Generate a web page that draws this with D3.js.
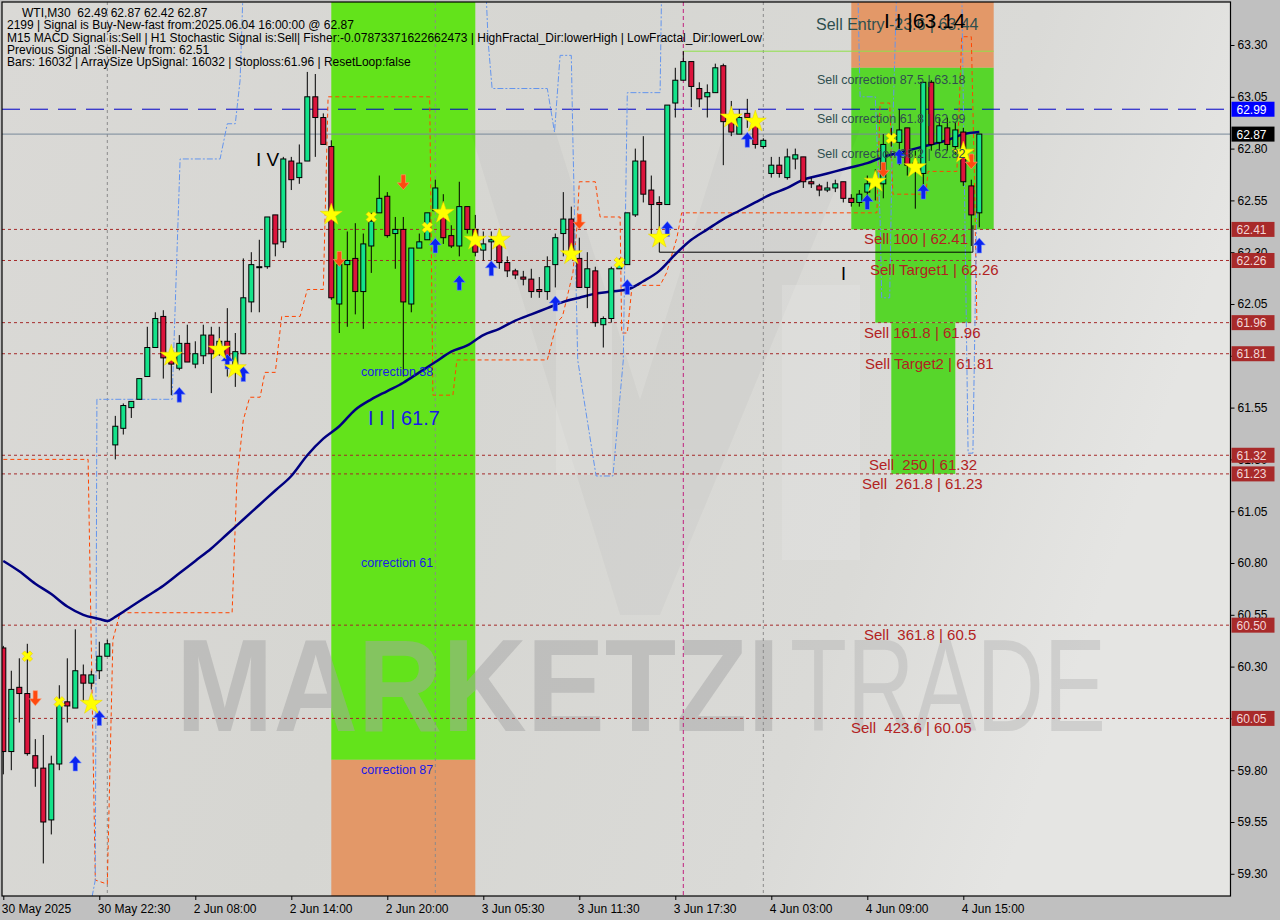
<!DOCTYPE html>
<html><head><meta charset="utf-8">
<script src="https://cdn.jsdelivr.net/npm/d3@7"></script>
<style>
body{margin:0;background:#c0c0c0;}
svg{display:block;font-family:"Liberation Sans",Arial,sans-serif;}
</style>
</head><body>
<svg id="c" width="1280" height="920"></svg>
<script>
// ---------------- DATA ----------------
const timeLabels = ["30 May 2025","30 May 22:30","2 Jun 08:00","2 Jun 14:00","2 Jun 20:00","3 Jun 05:30","3 Jun 11:30","3 Jun 17:30","4 Jun 03:00","4 Jun 09:00","4 Jun 15:00"];
const timeLabelBars = [0,12,24,36,48,60,72,84,96,108,120];
const priceTicks = [63.30,63.05,62.80,62.55,62.30,62.05,61.80,61.55,61.30,61.05,60.80,60.55,60.30,60.05,59.80,59.55,59.30];

const opens  = [60.39,59.89,60.20,60.17,59.87,59.81,59.56,59.83,60.13,60.10,60.26,60.22,60.28,60.35,61.37,61.45,61.55,61.59,61.70,61.84,
61.99,61.81,61.74,61.86,61.76,61.80,61.90,61.84,61.87,61.76,61.81,62.06,62.23,62.23,62.48,62.35,62.74,62.66,62.74,63.05,
62.95,62.81,62.05,62.24,62.27,62.11,62.33,62.49,62.57,62.39,62.41,62.05,62.32,62.36,62.50,62.49,62.38,62.33,62.52,62.41,
62.31,62.35,62.34,62.25,62.21,62.18,62.17,62.12,62.11,62.24,62.39,62.46,62.27,62.13,62.21,61.95,61.98,62.22,62.24,62.48,
62.74,62.60,62.54,62.53,63.02,63.13,63.22,63.09,63.05,63.07,63.20,62.95,62.87,62.97,62.93,62.81,62.68,62.72,62.66,62.75,
62.76,62.64,62.62,62.60,62.61,62.64,62.56,62.54,62.59,62.62,62.63,62.84,62.83,62.90,62.73,62.68,63.12,62.83,62.90,62.81,
62.88,62.62,62.49];
const highs  = [60.40,60.28,60.34,60.41,59.95,59.97,59.87,60.21,60.34,60.48,60.31,60.28,60.42,60.43,61.51,61.57,61.58,61.69,61.94,62.01,
62.02,61.83,61.90,61.95,61.87,61.95,61.94,61.94,62.03,61.91,62.27,62.30,62.36,62.47,62.48,62.76,62.76,62.82,63.17,63.16,
62.97,62.84,62.24,62.40,62.44,62.39,62.49,62.67,62.59,62.47,62.47,62.32,62.39,62.49,62.65,62.58,62.43,62.64,62.52,62.48,
62.40,62.40,62.40,62.28,62.22,62.21,62.22,62.18,62.28,62.39,62.59,62.52,62.37,62.30,62.23,61.99,62.23,62.27,62.49,62.80,
62.86,62.67,62.57,63.01,63.19,63.27,63.22,63.12,63.11,63.21,63.21,63.03,62.99,63.04,62.95,62.85,62.76,62.76,62.80,62.80,
62.76,62.66,62.63,62.64,62.65,62.64,62.58,62.60,62.67,62.70,62.87,62.90,62.99,62.90,62.79,63.12,63.13,62.95,62.95,62.93,
62.90,62.65,62.87];
const lows   = [59.78,59.80,60.03,59.87,59.72,59.35,59.49,59.80,60.03,60.10,60.13,60.19,60.24,60.35,61.30,61.42,61.50,61.59,61.70,61.84,
61.69,61.61,61.73,61.77,61.74,61.76,61.62,61.80,61.70,61.65,61.81,62.01,62.01,62.22,62.28,62.32,62.60,62.63,62.74,62.76,
62.82,62.07,61.91,61.94,62.00,61.93,62.20,62.49,62.37,62.22,61.70,62.01,62.32,62.36,62.50,62.34,62.32,62.28,62.39,62.28,
62.26,62.26,62.22,62.18,62.17,62.14,62.08,62.08,62.07,62.13,62.28,62.28,62.13,62.03,61.94,61.84,61.96,62.22,62.24,62.47,
62.54,62.38,62.37,62.53,62.95,63.13,63.00,63.00,62.95,63.07,62.72,62.86,62.87,62.90,62.80,62.80,62.66,62.66,62.65,62.70,
62.61,62.61,62.57,62.59,62.59,62.54,62.52,62.52,62.57,62.55,62.56,62.81,62.72,62.67,62.51,62.61,62.79,62.79,62.79,62.77,
62.62,62.33,62.42];
const closes = [59.89,60.19,60.17,59.88,59.81,59.55,59.83,60.12,60.11,60.28,60.22,60.26,60.35,60.41,61.46,61.56,61.58,61.69,61.84,61.98,
61.79,61.76,61.86,61.77,61.81,61.90,61.81,61.87,61.79,61.82,62.08,62.24,62.23,62.47,62.34,62.75,62.65,62.73,63.05,62.95,
62.82,62.08,62.24,62.26,62.11,62.34,62.45,62.56,62.38,62.41,62.06,62.32,62.35,62.49,62.61,62.37,62.33,62.52,62.41,62.30,
62.34,62.36,62.25,62.21,62.19,62.17,62.11,62.11,62.23,62.37,62.46,62.30,62.13,62.22,61.96,61.98,62.22,62.24,62.49,62.74,
62.58,62.53,62.53,63.01,63.13,63.22,63.10,63.04,63.07,63.19,62.93,62.88,62.95,62.95,62.82,62.84,62.72,62.68,62.76,62.77,
62.64,62.63,62.60,62.61,62.63,62.56,62.54,62.58,62.63,62.65,62.82,62.86,62.89,62.72,62.71,63.12,62.82,62.91,62.82,62.89,
62.64,62.48,62.87];

const maBars   = [0,2,4,6,8,10,12,13,14,16,18,20,22,24,26,28,30,32,34,36,38,40,42,44,46,48,50,52,54,56,58,60,62,64,66,68,70,72,74,76,78,80,82,84,86,88,90,92,94,96,98,100,102,104,106,108,110,112,114,116,118,120,122];
const maValues = [60.81,60.76,60.70,60.65,60.59,60.55,60.53,60.52,60.54,60.59,60.64,60.69,60.75,60.81,60.87,60.94,61.01,61.08,61.15,61.22,61.32,61.40,61.46,61.54,61.59,61.63,61.67,61.72,61.77,61.82,61.85,61.90,61.93,61.97,62.00,62.03,62.06,62.08,62.10,62.11,62.12,62.16,62.21,62.29,62.36,62.41,62.46,62.50,62.54,62.58,62.61,62.65,62.67,62.69,62.71,62.73,62.76,62.78,62.80,62.82,62.84,62.87,62.88];

const lowFractalBars   = [0,10.6,11.5,13,13.7,14.6,28.6,29.2,30,30.8,32.1,32.7,34,34.8,37.1,38,40,40.6,53.3,53.7,56.2,56.7,68,69.2,69.9,71.2,71.7,72,74,74.6,77.1,77.3,78,78.6,82.1,82.9,84.2,84.8,109.2,109.6,110.8,111.2,115.3,115.6,119.2,119.8,121,121.4,121.7];
const lowFractalPrices = [61.30,61.30,59.27,59.25,60.43,60.56,60.56,61.20,61.49,61.60,61.60,61.72,61.72,61.99,61.99,62.12,62.12,63.05,63.05,61.61,61.61,61.78,61.78,61.96,61.99,62.20,62.42,62.64,62.64,62.47,62.47,61.91,61.91,62.14,62.14,62.20,62.37,62.49,62.49,63.02,63.02,62.58,62.58,62.69,62.69,63.34,63.34,62.65,61.96];
const highFractalBars   = [11.1,11.5,11.7,21.1,22.1,27.1,28,29,29.6,30,60.3,60.6,61.1,68,68.9,69.6,71,71.2,71.8,74.1,76.2,77.5,78,82.1,82.3,106.8,107.1,109,109.6,109.8,110.8,111.1,111.7,119.8,120.6,121.2,121.5,121.8];
const highFractalPrices = [59.19,59.27,61.59,61.59,62.75,62.75,62.92,62.92,63.13,63.60,63.60,63.32,63.09,63.09,62.88,63.25,63.25,62.84,61.78,61.22,61.22,61.78,63.07,63.07,63.60,63.60,63.05,63.05,62.46,62.08,62.08,62.79,63.60,63.60,61.33,61.33,62.07,62.84];

const buyArrowBars   = [9,12,22,28,30,54,57,61,69,78,83,93,108,112,115,122];
const buyArrowPrices = [59.83,60.05,61.61,61.77,61.71,62.33,62.15,62.22,62.05,62.13,62.41,62.84,62.54,62.76,62.59,62.33];
const sellArrowBars   = [4,42,50,72,110,121];
const sellArrowPrices = [60.15,62.27,62.64,62.45,62.70,62.74];
const starBars   = [11,21,27,29,41,55,59,62,71,82,91,94,109,114,120];
const starPrices = [60.12,61.80,61.83,61.74,62.48,62.49,62.36,62.36,62.29,62.37,62.95,62.93,62.64,62.71,62.78];
const crossBars   = [3,7,46,53,77,111];
const crossPrices = [60.35,60.13,62.47,62.42,62.25,62.85];

const levelPrices = [62.41,62.26,61.96,61.81,61.32,61.23,60.50,60.05];
const levelNames  = ["Sell 100 | 62.41","Sell Target1 | 62.26","Sell 161.8 | 61.96","Sell Target2 | 61.81","Sell  250 | 61.32","Sell  261.8 | 61.23","Sell  361.8 | 60.5","Sell  423.6 | 60.05"];
const correctionNames  = ["Sell correction 87.5 | 63.18","Sell correction 61.8 | 62.99","Sell correction 38.2 | 62.82"];
const correctionPrices = [63.18,62.99,62.82];
const leftCorrectionNames  = ["correction 38","correction 61","correction 87"];
const leftCorrectionPrices = [61.72,60.80,59.80];

const infoLines = ["WTI,M30  62.49 62.87 62.42 62.87",
 "2199 | Signal is Buy-New-fast from:2025.06.04 16:00:00 @ 62.87",
 "M15 MACD Signal is:Sell | H1 Stochastic Signal is:Sell| Fisher:-0.07873371622662473 | HighFractal_Dir:lowerHigh | LowFractal_Dir:lowerLow",
 "Previous Signal :Sell-New from: 62.51",
 "Bars: 16032 | ArraySize UpSignal: 16032 | Stoploss:61.96 | ResetLoop:false"];

// zones: [barStart, barEnd, priceLow, priceHigh, kind]
const zoneBarStart = [41,41,106,106,109,111];
const zoneBarEnd   = [59,59,123.8,123.8,121,119];
const zoneLow      = [59.85,59.10,63.19,62.41,61.96,61.23];
const zoneHigh     = [63.60,59.85,63.60,63.19,62.41,61.96];
const zoneKind     = ["g1","o","o","g","g","g"];

// ---------------- CHART ----------------
const svg = d3.select("#c");
const L = 2, T = 2, R = 1230.5, B = 896;
const x = d3.scaleLinear().domain([0,122]).range([3.3,979.3]);
const y = d3.scaleLinear().domain([59.30,63.30]).range([873.8,45]);

const defs = svg.append("defs");
const g1 = defs.append("linearGradient").attr("id","bg").attr("x1","0").attr("y1","0").attr("x2","1").attr("y2","0.25");
[["0","#dad9d6"],["0.45","#d6d6d2"],["0.8","#dadad7"],["1","#e5e5e3"]].forEach(s=>g1.append("stop").attr("offset",s[0]).attr("stop-color",s[1]));
defs.append("clipPath").attr("id","clip").append("rect").attr("x",L).attr("y",T).attr("width",R-L).attr("height",B-T);

svg.append("rect").attr("width",1280).attr("height",920).attr("fill","#c0c0c0");
svg.append("rect").attr("x",L).attr("y",T).attr("width",R-L).attr("height",B-T).attr("fill","url(#bg)");

const plot = svg.append("g").attr("clip-path","url(#clip)");

// zones
const zoneColor = {g1:"#63e31b", g:"#57d62b", o:"#e39868"};
plot.selectAll("rect.zone").data(zoneKind).join("rect").attr("class","zone")
  .attr("x",(d,i)=>x(zoneBarStart[i])).attr("width",(d,i)=>x(zoneBarEnd[i])-x(zoneBarStart[i]))
  .attr("y",(d,i)=>y(zoneHigh[i])).attr("height",(d,i)=>y(zoneLow[i])-y(zoneHigh[i]))
  .attr("fill",d=>zoneColor[d]);

// faint logo watermark (decorative)
const logo = plot.append("g").attr("opacity",0.5);
logo.append("path").attr("d","M470,130 L555,130 L640,400 L725,130 L860,130 L660,615 L620,615 Z")
  .attr("fill","#000").attr("fill-opacity",0.05);
logo.append("rect").attr("x",556).attr("y",290).attr("width",56).attr("height",185).attr("fill","#fff").attr("fill-opacity",0.25);
logo.append("rect").attr("x",782).attr("y",285).attr("width",78).attr("height",275).attr("fill","#fff").attr("fill-opacity",0.25);

// watermark text
plot.append("text").attr("x",176).attr("y",731).attr("font-size",132).attr("font-weight","bold")
  .attr("textLength",604).attr("lengthAdjust","spacingAndGlyphs")
  .attr("fill","#a6a6a6").attr("fill-opacity",0.5).text("MARKETZI");
plot.append("text").attr("x",790).attr("y",731).attr("font-size",132)
  .attr("textLength",316).attr("lengthAdjust","spacingAndGlyphs")
  .attr("fill","#b4b4b4").attr("fill-opacity",0.45).text("TRADE");

// vertical separators
const sepBars = [13,54,95];
plot.selectAll("line.sep").data(sepBars).join("line").attr("class","sep")
  .attr("x1",d=>x(d)).attr("x2",d=>x(d)).attr("y1",T).attr("y2",B)
  .attr("stroke","#8a8a8a").attr("stroke-dasharray","3,3");
plot.append("line").attr("x1",x(85)).attr("x2",x(85)).attr("y1",T).attr("y2",B)
  .attr("stroke","#c0207f").attr("stroke-dasharray","4,3");

// level lines
plot.selectAll("line.lvl").data(levelPrices).join("line").attr("class","lvl")
  .attr("x1",L).attr("x2",R).attr("y1",d=>y(d)).attr("y2",d=>y(d))
  .attr("stroke","#a52a2a").attr("stroke-dasharray","3,3");
plot.append("line").attr("x1",L).attr("x2",R).attr("y1",y(62.99)).attr("y2",y(62.99))
  .attr("stroke","#0000c8").attr("stroke-width",1).attr("stroke-dasharray","18,10");
plot.append("line").attr("x1",L).attr("x2",R).attr("y1",y(62.87)).attr("y2",y(62.87))
  .attr("stroke","#778899");
plot.append("line").attr("x1",x(85)).attr("x2",x(123.8)).attr("y1",y(63.27)).attr("y2",y(63.27))
  .attr("stroke","#8fe04a");

// fractal lines
const lineXY = d3.line().x(d=>x(d[0])).y(d=>y(d[1]));
plot.append("path").attr("d",lineXY(lowFractalBars.map((b,i)=>[b,lowFractalPrices[i]])))
  .attr("fill","none").attr("stroke","#ff4500").attr("stroke-dasharray","4,3");
plot.append("path").attr("d",lineXY(highFractalBars.map((b,i)=>[b,highFractalPrices[i]])))
  .attr("fill","none").attr("stroke","#6495ed").attr("stroke-dasharray","6,2,2,2");

// black wave line
plot.append("path").attr("d",lineXY([[82,62.37],[82,62.30],[121.2,62.30],[121.2,62.43]]))
  .attr("fill","none").attr("stroke","#000");

// moving average
plot.append("path").attr("d",d3.line().curve(d3.curveMonotoneX).x(d=>x(d[0])).y(d=>y(d[1]))(maBars.map((b,i)=>[b,maValues[i]])))
  .attr("fill","none").attr("stroke","#000080").attr("stroke-width",2.5);

// candles
const idx = d3.range(opens.length);
const cg = plot.append("g");
cg.selectAll("line.wick").data(idx).join("line")
  .attr("x1",i=>x(i)).attr("x2",i=>x(i)).attr("y1",i=>y(highs[i])).attr("y2",i=>y(lows[i]))
  .attr("stroke","#000").attr("stroke-width",1);
cg.selectAll("rect.body").data(idx).join("rect")
  .attr("x",i=>x(i)-2.5).attr("width",5)
  .attr("y",i=>y(Math.max(opens[i],closes[i])))
  .attr("height",i=>Math.max(1,Math.abs(y(opens[i])-y(closes[i]))))
  .attr("fill",i=>closes[i]>=opens[i]?"#14e38a":"#dc143c")
  .attr("stroke","#000").attr("stroke-width",1);

// markers
const upArrow = "M0,-8 L6,-1 L2.2,-1 L2.2,7 L-2.2,7 L-2.2,-1 L-6,-1 Z";
const dnArrow = "M0,8 L6,1 L2.2,1 L2.2,-7 L-2.2,-7 L-2.2,1 L-6,1 Z";
plot.selectAll("path.buy").data(buyArrowBars).join("path")
  .attr("transform",(d,i)=>`translate(${x(d)},${y(buyArrowPrices[i])})`)
  .attr("d",upArrow).attr("fill","#0b24f0").attr("stroke","#6f8cff").attr("stroke-width",0.6);
plot.selectAll("path.sell").data(sellArrowBars).join("path")
  .attr("transform",(d,i)=>`translate(${x(d)},${y(sellArrowPrices[i])})`)
  .attr("d",dnArrow).attr("fill","#ff4a10").attr("stroke","#ff9a70").attr("stroke-width",0.6);
plot.selectAll("path.star").data(starBars).join("path")
  .attr("transform",(d,i)=>`translate(${x(d)},${y(starPrices[i])})`)
  .attr("d",d3.symbol(d3.symbolStar,150)).attr("fill","#ffff00").attr("stroke","#e8d000").attr("stroke-width",0.5);
plot.selectAll("path.cross").data(crossBars).join("path")
  .attr("transform",(d,i)=>`translate(${x(d)},${y(crossPrices[i])}) rotate(45)`)
  .attr("d",d3.symbol(d3.symbolCross,70)).attr("fill","#ffff00").attr("stroke","#e8c000").attr("stroke-width",0.5);

// level texts
const lvlX = [864,870,864,865,869,862,864,851];
plot.selectAll("text.lvlt").data(levelNames).join("text")
  .attr("x",(d,i)=>lvlX[i]).attr("y",(d,i)=>y(levelPrices[i])+15)
  .attr("font-size",15).attr("fill","#b22222").style("white-space","pre").text(d=>d);
plot.selectAll("text.cor").data(correctionNames).join("text")
  .attr("x",817).attr("y",(d,i)=>y(correctionPrices[i])+14)
  .attr("font-size",12.5).attr("fill","#2f4f4f").text(d=>d);
plot.append("text").attr("x",816).attr("y",30).attr("font-size",16).attr("fill","#2f4f4f").text("Sell Entry -23.6 | 63.44");
plot.append("text").attr("x",884).attr("y",28).attr("font-size",21).attr("fill","#000").style("white-space","pre").text("I I |63.14");
plot.append("text").attr("x",256).attr("y",166).attr("font-size",19).attr("fill","#000").style("white-space","pre").text("I V");
plot.append("text").attr("x",841).attr("y",280).attr("font-size",18).attr("fill","#000").text("I");
plot.selectAll("text.lcor").data(leftCorrectionNames).join("text")
  .attr("x",361).attr("y",(d,i)=>y(leftCorrectionPrices[i])+4)
  .attr("font-size",12.5).attr("fill","#1a1ae6").text(d=>d);
plot.append("text").attr("x",368).attr("y",425).attr("font-size",20).attr("fill","#1a1ae6").style("white-space","pre").text("I I | 61.7");

// info text
svg.selectAll("text.info").data(infoLines).join("text")
  .attr("x",(d,i)=>i===0?22:7).attr("y",(d,i)=>[16.5,29,41.5,54,66][i])
  .attr("font-size",12).attr("fill","#000").style("white-space","pre").text(d=>d);

// frame
svg.append("rect").attr("x",L).attr("y",T).attr("width",R-L).attr("height",B-T)
  .attr("fill","none").attr("stroke","#000").attr("stroke-width",1.2);

// axes
const ay = svg.append("g").attr("transform",`translate(${R},0)`)
  .call(d3.axisRight(y).tickValues(priceTicks).tickSize(4).tickFormat(d3.format(".2f")));
ay.select(".domain").remove();
ay.selectAll("text").attr("font-size",12).attr("font-family","Liberation Sans, Arial, sans-serif").attr("fill","#000");
ay.selectAll("line").attr("stroke","#000");

const ax = svg.append("g").attr("transform",`translate(0,${B})`)
  .call(d3.axisBottom(x).tickValues(timeLabelBars).tickSize(4).tickFormat((d,i)=>timeLabels[i]));
ax.select(".domain").remove();
ax.selectAll("text").attr("font-size",12).attr("font-family","Liberation Sans, Arial, sans-serif")
  .attr("fill","#000").attr("text-anchor","start").attr("x",-2).attr("y",8);
ax.selectAll("line").attr("stroke","#000");

// right price labels
const tagPrices = [62.99,62.87].concat(levelPrices);
const tagFill = ["#0000ff","#000000"].concat(levelPrices.map(()=> "#a82a2a"));
const tagText = ["#ffffff","#ffffff"].concat(levelPrices.map(()=> "#f3d6d6"));
const tags = svg.selectAll("g.tag").data(tagPrices).join("g").attr("class","tag")
  .attr("transform",d=>`translate(${R+1},${y(d)})`);
tags.append("rect").attr("x",0).attr("y",-7.5).attr("width",43).attr("height",15).attr("fill",(d,i)=>tagFill[i]);
tags.append("text").attr("x",5).attr("y",4.5).attr("font-size",12).attr("fill",(d,i)=>tagText[i]).text(d=>d.toFixed(2));
</script>
</body></html>
